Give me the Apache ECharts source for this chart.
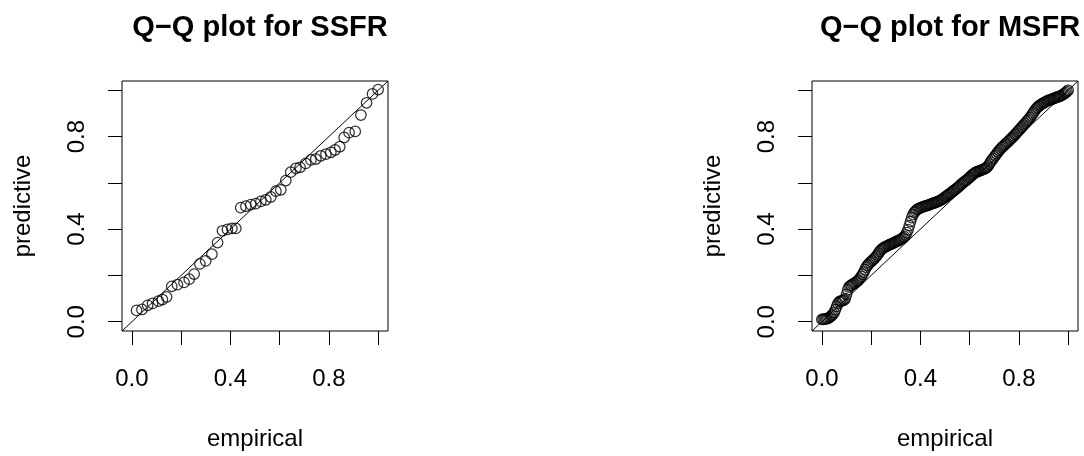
<!DOCTYPE html>
<html>
<head>
<meta charset="utf-8">
<script src="https://cdn.jsdelivr.net/npm/echarts@6/dist/echarts.min.js"></script>
<style>
  html, body { margin: 0; padding: 0; background: #ffffff; }
  #chart { width: 1084px; height: 456px; }
</style>
</head>
<body>
<div id="chart"></div>
<script>
// Panel titles and axis captions
const titles = ['Q\u2212Q plot for SSFR', 'Q\u2212Q plot for MSFR'];
const xName = 'empirical';
const yName = 'predictive';
const tickValues = [0, 0.2, 0.4, 0.6, 0.8, 1.0];
const labelValues = [0, 0.4, 0.8];

// SSFR: empirical vs predictive quantiles
const ssfrEmpirical = [0.019, 0.041, 0.064, 0.084, 0.108, 0.124, 0.141, 0.162, 0.185, 0.212,
  0.233, 0.253, 0.276, 0.300, 0.325, 0.348, 0.368, 0.388, 0.406, 0.422,
  0.442, 0.463, 0.483, 0.503, 0.524, 0.544, 0.564, 0.585, 0.605, 0.625,
  0.645, 0.666, 0.683, 0.706, 0.727, 0.747, 0.767, 0.788, 0.808, 0.825,
  0.844, 0.862, 0.882, 0.907, 0.930, 0.953, 0.977, 1.000];
const ssfrPredictive = [0.049, 0.053, 0.071, 0.079, 0.089, 0.096, 0.107, 0.153, 0.160, 0.170,
  0.184, 0.206, 0.250, 0.263, 0.292, 0.342, 0.393, 0.399, 0.403, 0.403,
  0.493, 0.499, 0.506, 0.510, 0.520, 0.527, 0.539, 0.564, 0.570, 0.610,
  0.646, 0.663, 0.667, 0.684, 0.699, 0.703, 0.717, 0.724, 0.732, 0.742,
  0.756, 0.796, 0.817, 0.822, 0.893, 0.946, 0.984, 1.003];

// MSFR: empirical vs predictive quantiles
const msfrEmpirical = [
  0.000, 0.005, 0.010, 0.015, 0.020, 0.025, 0.030, 0.035, 0.040, 0.045,
  0.050, 0.055, 0.060, 0.065, 0.070, 0.075, 0.080, 0.085, 0.090, 0.095,
  0.100, 0.105, 0.110, 0.115, 0.120, 0.125, 0.130, 0.135, 0.140, 0.145,
  0.150, 0.155, 0.160, 0.165, 0.170, 0.175, 0.180, 0.185, 0.190, 0.195,
  0.200, 0.205, 0.210, 0.215, 0.220, 0.225, 0.230, 0.235, 0.240, 0.245,
  0.250, 0.255, 0.260, 0.265, 0.270, 0.275, 0.280, 0.285, 0.290, 0.295,
  0.300, 0.305, 0.310, 0.315, 0.320, 0.325, 0.330, 0.335, 0.340, 0.345,
  0.350, 0.355, 0.360, 0.365, 0.370, 0.375, 0.380, 0.385, 0.390, 0.395,
  0.400, 0.405, 0.410, 0.415, 0.420, 0.425, 0.430, 0.435, 0.440, 0.445,
  0.450, 0.455, 0.460, 0.465, 0.470, 0.475, 0.480, 0.485, 0.490, 0.495,
  0.500, 0.505, 0.510, 0.515, 0.520, 0.525, 0.530, 0.535, 0.540, 0.545,
  0.550, 0.555, 0.560, 0.565, 0.570, 0.575, 0.580, 0.585, 0.590, 0.595,
  0.600, 0.605, 0.610, 0.615, 0.620, 0.625, 0.630, 0.635, 0.640, 0.645,
  0.650, 0.655, 0.660, 0.665, 0.670, 0.675, 0.680, 0.685, 0.690, 0.695,
  0.700, 0.705, 0.710, 0.715, 0.720, 0.725, 0.730, 0.735, 0.740, 0.745,
  0.750, 0.755, 0.760, 0.765, 0.770, 0.775, 0.780, 0.785, 0.790, 0.795,
  0.800, 0.805, 0.810, 0.815, 0.820, 0.825, 0.830, 0.835, 0.840, 0.845,
  0.850, 0.855, 0.860, 0.865, 0.870, 0.875, 0.880, 0.885, 0.890, 0.895,
  0.900, 0.905, 0.910, 0.915, 0.920, 0.925, 0.930, 0.935, 0.940, 0.945,
  0.950, 0.955, 0.960, 0.965, 0.970, 0.975, 0.980, 0.985, 0.990, 0.995,
  1.000];
const msfrPredictive = [
  0.010, 0.010, 0.011, 0.012, 0.013, 0.015, 0.018, 0.022, 0.027, 0.033,
  0.040, 0.052, 0.066, 0.078, 0.086, 0.089, 0.090, 0.091, 0.093, 0.100,
  0.118, 0.138, 0.150, 0.155, 0.158, 0.162, 0.165, 0.168, 0.172, 0.176,
  0.181, 0.188, 0.196, 0.205, 0.214, 0.225, 0.236, 0.243, 0.249, 0.255,
  0.260, 0.265, 0.270, 0.275, 0.281, 0.288, 0.296, 0.304, 0.310, 0.315,
  0.319, 0.322, 0.325, 0.328, 0.330, 0.333, 0.335, 0.338, 0.340, 0.343,
  0.345, 0.348, 0.350, 0.353, 0.356, 0.359, 0.363, 0.368, 0.375, 0.385,
  0.398, 0.415, 0.433, 0.450, 0.463, 0.472, 0.478, 0.483, 0.487, 0.490,
  0.492, 0.494, 0.496, 0.498, 0.500, 0.502, 0.503, 0.505, 0.507, 0.509,
  0.511, 0.513, 0.515, 0.517, 0.519, 0.521, 0.524, 0.527, 0.530, 0.534,
  0.538, 0.542, 0.546, 0.550, 0.554, 0.558, 0.562, 0.566, 0.570, 0.574,
  0.578, 0.583, 0.588, 0.593, 0.598, 0.602, 0.606, 0.610, 0.614, 0.619,
  0.624, 0.629, 0.634, 0.638, 0.642, 0.645, 0.648, 0.650, 0.652, 0.654,
  0.656, 0.658, 0.660, 0.663, 0.667, 0.673, 0.681, 0.690, 0.698, 0.705,
  0.712, 0.719, 0.726, 0.733, 0.740, 0.746, 0.752, 0.757, 0.762, 0.767,
  0.772, 0.777, 0.782, 0.788, 0.793, 0.798, 0.803, 0.809, 0.815, 0.821,
  0.827, 0.833, 0.839, 0.845, 0.851, 0.857, 0.863, 0.869, 0.875, 0.882,
  0.889, 0.897, 0.905, 0.913, 0.920, 0.926, 0.931, 0.935, 0.939, 0.942,
  0.945, 0.948, 0.951, 0.954, 0.956, 0.958, 0.960, 0.962, 0.964, 0.966,
  0.968, 0.970, 0.972, 0.974, 0.976, 0.979, 0.982, 0.986, 0.990, 0.995,
  1.000];

const FONT = '"Liberation Sans", Arial, Helvetica, sans-serif';
const AXIS_MIN = -0.04, AXIS_MAX = 1.04;
const grids = [
  { left: 122, top: 81, width: 266, height: 252 },
  { left: 812, top: 81, width: 266, height: 252 }
];

function pairs(xs, ys) { return xs.map((x, i) => [x, ys[i]]); }

function axisCommon(gridIndex, isX) {
  return {
    type: 'value', gridIndex, min: AXIS_MIN, max: AXIS_MAX,
    name: isX ? xName : yName,
    nameLocation: 'middle',
    nameGap: isX ? 96 : 87,
    nameTextStyle: { fontFamily: FONT, fontSize: 24, color: '#000' },
    splitLine: { show: false },
    axisLine: { show: false, onZero: false },
    axisTick: { show: true, inside: false, length: 14, customValues: tickValues,
      lineStyle: { color: '#000', width: 1 } },
    axisLabel: { show: true, customValues: labelValues, margin: isX ? 36 : 33,
      rotate: isX ? 0 : 90, fontFamily: FONT, fontSize: 24, color: '#000',
      formatter: v => v.toFixed(1) }
  };
}

const chart = echarts.init(document.getElementById('chart'), null, { renderer: 'canvas' });
const pointStyle = { color: 'rgba(0,0,0,0)', borderColor: '#000', borderWidth: 1.25 };

chart.setOption({
  animation: false,
  backgroundColor: '#ffffff',
  title: titles.map((t, i) => ({
    text: t,
    left: grids[i].left + grids[i].width / 2,
    textAlign: 'center',
    top: 8,
    textStyle: { fontFamily: FONT, fontSize: 29, fontWeight: 'bold', color: '#000' }
  })),
  grid: grids.map(g => Object.assign({ show: true, borderColor: '#000', borderWidth: 1,
    backgroundColor: 'transparent', containLabel: false }, g)),
  xAxis: [axisCommon(0, true), axisCommon(1, true)],
  yAxis: [axisCommon(0, false), axisCommon(1, false)],
  series: [
    { type: 'line', xAxisIndex: 0, yAxisIndex: 0, data: [[AXIS_MIN, AXIS_MIN], [AXIS_MAX, AXIS_MAX]],
      symbol: 'none', lineStyle: { color: '#000', width: 1 }, silent: true },
    { type: 'scatter', xAxisIndex: 0, yAxisIndex: 0, data: pairs(ssfrEmpirical, ssfrPredictive),
      symbol: 'circle', symbolSize: 10.5, itemStyle: pointStyle },
    { type: 'line', xAxisIndex: 1, yAxisIndex: 1, data: [[AXIS_MIN, AXIS_MIN], [AXIS_MAX, AXIS_MAX]],
      symbol: 'none', lineStyle: { color: '#000', width: 1 }, silent: true },
    { type: 'scatter', xAxisIndex: 1, yAxisIndex: 1, data: pairs(msfrEmpirical, msfrPredictive),
      symbol: 'circle', symbolSize: 10.5, itemStyle: pointStyle }
  ]
});
</script>
</body>
</html>
